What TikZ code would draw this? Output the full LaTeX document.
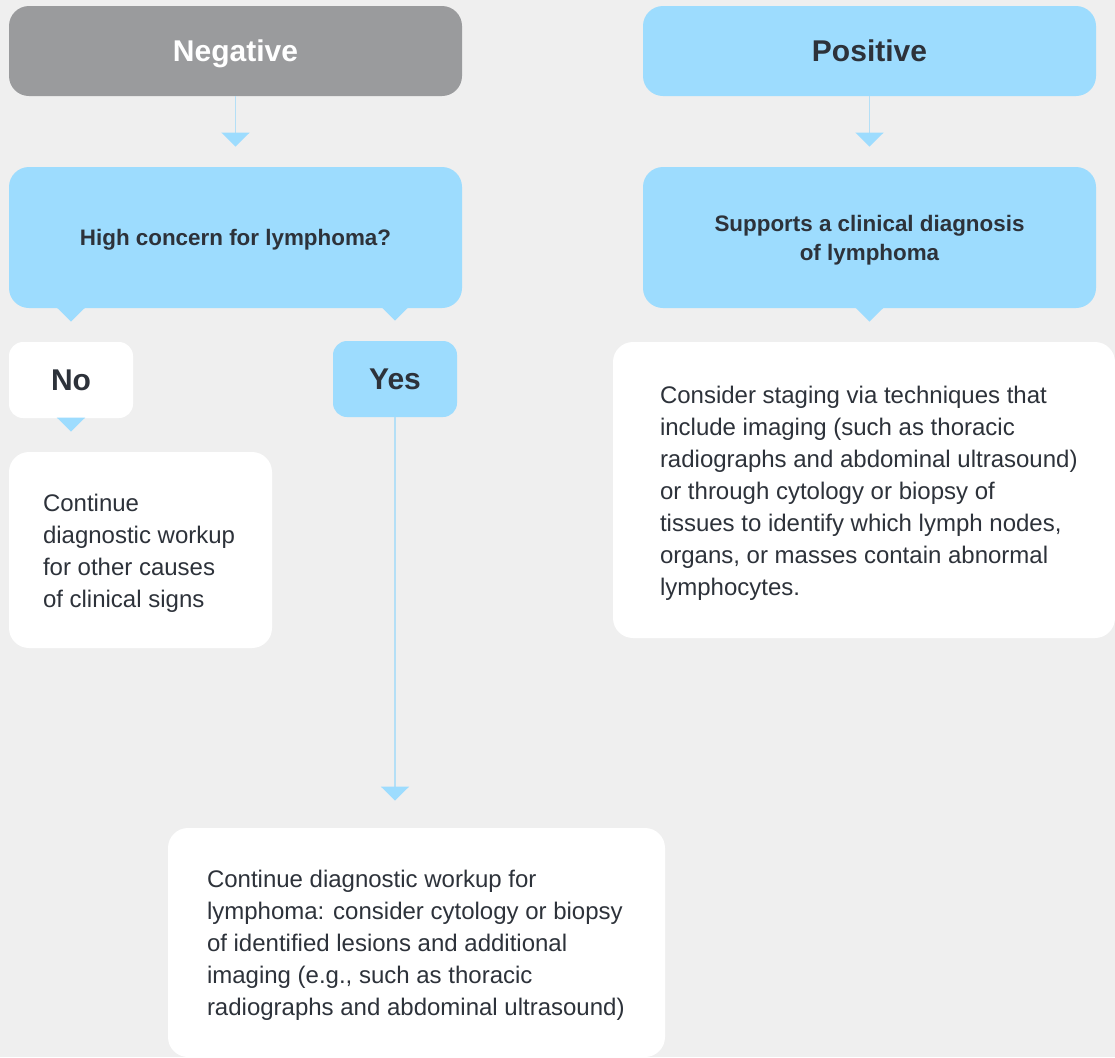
\documentclass[tikz,border=0pt]{standalone}
\usepackage{fontspec}
\setmainfont{Liberation Sans}
\usetikzlibrary{arrows.meta}

\definecolor{bggray}{RGB}{239,239,239}
\definecolor{neggray}{RGB}{154,155,157}
\definecolor{boxblue}{RGB}{157,220,254}
\definecolor{lineblue}{RGB}{180,223,246}
\definecolor{textdark}{RGB}{45,50,58}

\begin{document}
\begin{tikzpicture}[x=0.5pt,y=-0.5pt,
  box/.style={rectangle,rounded corners=10pt,inner sep=0pt,text=textdark},
  headbox/.style={box,font=\fontsize{15}{18}\selectfont\bfseries,text height=10.7pt,text depth=0pt},
  askbox/.style={box,fill=boxblue},
  asktext/.style={inner sep=0pt,align=center,text=textdark,font=\fontsize{11.2}{14.5}\selectfont\bfseries},
  notebox/.style={box,fill=white},
  notetext/.style={anchor=west,inner sep=0pt,yshift=-1.5pt,align=left,text=textdark,font=\fontsize{12}{16}\selectfont}]

\def\px{0.5pt}

\clip (0,0) rectangle (1115,1057);
\fill[bggray] (0,0) rectangle (1115,1057);

% top row
\node[headbox,fill=neggray,text=white,minimum width=453*\px,minimum height=90*\px] (neg) at (235.5,51) {Negative};
\node[headbox,fill=boxblue,minimum width=453*\px,minimum height=90*\px] (pos) at (869.5,51) {Positive};

% questions
\node[askbox,minimum width=453*\px,minimum height=141*\px] (concern) at (235.5,237.5) {};
\node[asktext] (concerntext) at (235.5,240) {High concern for lymphoma?};
\node[askbox,minimum width=453*\px,minimum height=141*\px] (supports) at (869.5,237.5) {};
\node[asktext] (supportstext) at (869.5,240) {Supports a clinical diagnosis\\of lymphoma};

% answers
\node[headbox,fill=white,rounded corners=7pt,minimum width=124*\px,minimum height=76*\px] (no) at (71,380) {No};
\node[headbox,fill=boxblue,rounded corners=7pt,minimum width=124*\px,minimum height=76*\px] (yes) at (395,379) {Yes};

% outcomes
\node[notebox,minimum width=263*\px,minimum height=196*\px] (other) at (140.5,550) {};
\node[notetext] (othertext) at ([xshift=17pt]other.west)
  {Continue\\diagnostic workup\\for other causes\\of clinical signs};
\node[notebox,minimum width=502*\px,minimum height=296*\px] (staging) at (864,490) {};
\node[notetext] (stagingtext) at ([xshift=23.5pt]staging.west)
  {Consider staging via techniques that\\include imaging (such as thoracic\\radiographs and abdominal ultrasound)\\or through cytology or biopsy of\\tissues to identify which lymph nodes,\\organs, or masses contain abnormal\\lymphocytes.};
\node[notebox,minimum width=497*\px,minimum height=229*\px] (workup) at (416.5,942.5) {};
\node[notetext] (workuptext) at ([xshift=19.5pt]workup.west)
  {Continue diagnostic workup for\\lymphoma: consider cytology or biopsy\\of identified lesions and additional\\imaging (e.g., such as thoracic\\radiographs and abdominal ultrasound)};

\tikzset{link/.style={draw=lineblue,line width=0.75pt,shorten >=10pt,
    -{Triangle[width=14pt,length=7pt,color=boxblue]}}}
\draw[link] (neg) -- (concern);
\draw[link] (pos) -- (supports);
\draw[link] (concern.south -| no) -- (no);
\draw[link] (concern.south -| yes) -- (yes);
\draw[link] (supports.south) -- (supports.south |- staging.north);
\draw[link] (no) -- (no.south |- other.north);
\draw[link,shorten >=13.5pt] (yes) -- (yes.south |- workup.north);
\end{tikzpicture}
\end{document}
